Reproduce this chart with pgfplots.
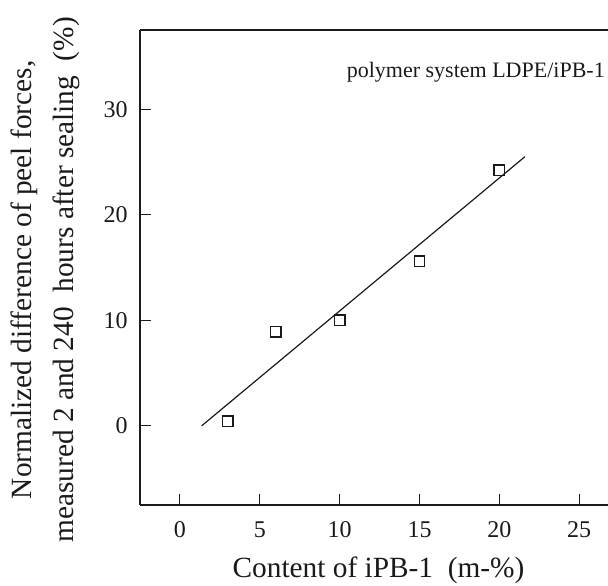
\documentclass[border=0pt]{standalone}
\usepackage{pgfplots}
\pgfplotsset{compat=1.18}
\usepackage{fontspec}
\setmainfont{Liberation Serif}

\definecolor{ink}{HTML}{1A1A1A}

\begin{document}
\begin{tikzpicture}
\begin{axis}[
  at={(0,0)}, anchor=south west,
  width=351pt, height=356.25pt, scale only axis,
  xmin=-2.5, xmax=26.8, ymin=-7.5, ymax=37.5,
  axis x line*=box, axis y line*=left,
  axis line style={ink, line width=1pt},
  xtick={0,5,10,15,20,25}, ytick={0,10,20,30},
  xtick pos=left, ytick pos=left,
  tick align=inside, major tick length=8.6pt,
  every tick/.style={ink, line width=0.8pt},
  /pgf/number format/assume math mode=true,
  tick label style={font=\fontsize{18}{20}\selectfont, text=ink},
  xticklabel style={anchor=base, yshift=-24.2pt},
  yticklabel style={anchor=east, inner sep=0pt, xshift=-9pt},
  xlabel={Content of iPB-1\ \ (m-\%)},
  xlabel style={at={(axis description cs:0.5096,-0.1516)}, anchor=base,
    font=\fontsize{22}{26}\selectfont, text=ink},
  ylabel={Normalized difference of peel forces,\\measured 2 and 240\ \ hours after sealing\ \ (\%)},
  ylabel style={at={(axis description cs:-0.203,0.474)}, anchor=center, rotate=0,
    align=center, font=\fontsize{22}{31.5}\selectfont, text=ink, inner sep=0pt},
  clip=false,
]
% regression line
\addplot[ink, line width=0.9pt] coordinates {(1.36,0) (21.6,25.5)};
% measured values
\addplot[only marks, mark=square, mark size=3.9pt,
  mark options={ink, line width=1.1pt}] coordinates {
  (3,0.45) (6,8.9) (10,10.0) (15,15.6) (20,24.2)
};
\node[anchor=base east, inner sep=0pt, font=\fontsize{16.5}{19}\selectfont, text=ink]
  at (axis description cs:0.9936,0.901) {polymer system LDPE/iPB-1};
\end{axis}
\pgfresetboundingbox
\path[use as bounding box] (-105pt,-60.75pt) rectangle (351pt,378.75pt);
\end{tikzpicture}
\end{document}
